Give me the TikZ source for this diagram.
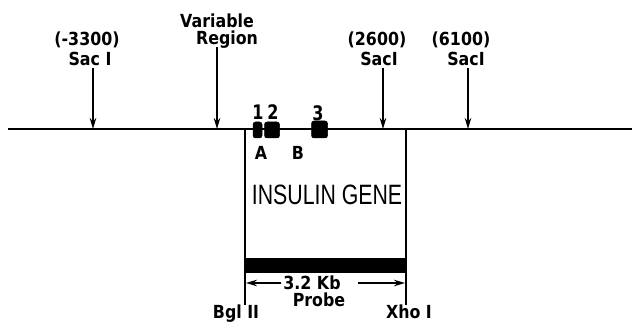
\documentclass[tikz,border=0pt]{standalone}
\usepackage{fontspec}
\setmainfont{DejaVu Sans}
\newfontfamily\genefont{Liberation Sans}
\usetikzlibrary{arrows.meta}
\newcommand\condtxt[1]{\scalebox{0.88}[1]{#1}}
\newcommand\numtxt[1]{\scalebox{0.8}[1]{#1}}
\begin{document}
\begin{tikzpicture}[x=1pt,y=-1pt,
  lbl/.style={font=\fontsize{18}{20}\selectfont\bfseries, inner sep=0pt, anchor=base},
  numlbl/.style={font=\fontsize{20}{22}\selectfont\bfseries, inner sep=0pt, anchor=base},
  ln/.style={line width=2.6pt},
  sitearrow/.style={line width=2.4pt, -{Stealth[length=11pt,width=6.5pt]}},
  dimarrow/.style={line width=2.2pt, -{Stealth[length=11pt,width=6.5pt]}},
  exon/.style={fill=black, draw=black, rounded corners=2.5pt, line width=0.5pt}
]
\useasboundingbox (0,0) rectangle (632,323);
\clip (0,0) rectangle (632,323);

% main line
\coordinate (L) at (8,129);
\coordinate (R) at (640,129);
\draw[ln] (L) -- (R);

% site coordinates on the line
\coordinate (p1) at (93,129);
\coordinate (p2) at (217,129);
\coordinate (p3) at (383,129);
\coordinate (p4) at (468,129);
\coordinate (p2top) at (217,47);

% top labels
\node[lbl] (s1a) at (87,46) {\condtxt{(-3300)}};
\node[lbl] (s1b) at (90,66) {\condtxt{Sac I}};
\node[lbl] (v1a) at (217,28) {\condtxt{Variable}};
\node[lbl] (v1b) at (227,45) {\condtxt{Region}};
\node[lbl] (s3a) at (377,46) {\condtxt{(2600)}};
\node[lbl] (s3b) at (379,66) {\condtxt{SacI}};
\node[lbl] (s4a) at (461,46) {\condtxt{(6100)}};
\node[lbl] (s4b) at (466,66) {\condtxt{SacI}};

\draw[sitearrow] (s1b.south -| p1) ++(0,2) -- (p1);
\draw[sitearrow] (p2top) -- (p2);
\draw[sitearrow] (s3b.south -| p3) ++(0,2) -- (p3);
\draw[sitearrow] (s4b.south -| p4) ++(0,2) -- (p4);

% exons
\node[exon, minimum width=9pt, minimum height=16pt, inner sep=0pt] (e1) at (257.5,130) {};
\node[exon, minimum width=15pt, minimum height=16pt, inner sep=0pt] (e2) at (272,130) {};
\node[exon, minimum width=16pt, minimum height=17pt, inner sep=0pt] (e3) at (319.5,129.5) {};
\node[numlbl] (n1) at (258,120) {\numtxt{1}};
\node[numlbl] (n2) at (273,120) {\numtxt{2}};
\node[numlbl] (n3) at (318,121) {\numtxt{3}};
\node[lbl] (la) at (261,160) {\condtxt{A}};
\node[lbl] (lb) at (298,160) {\condtxt{B}};

% gene box
\coordinate (bl) at (245,129);
\coordinate (br) at (406,129);
\coordinate (bl2) at (245,305);
\coordinate (br2) at (406,305);
\draw[ln] (bl) -- (bl2);
\draw[ln] (br) -- (br2);
\node[font=\genefont\fontsize{28}{30}\selectfont, inner sep=0pt, anchor=base] (gene) at (327,205) {\scalebox{0.76}[1]{INSULIN GENE}};

% probe bar
\node[fill=black, inner sep=0pt, minimum width=161pt, minimum height=15pt] (bar) at (325.5,265.5) {};

% dimension arrows
\coordinate (dl) at (246,283);
\coordinate (dr) at (405,283);
\node[lbl] (kb) at (312,289) {\condtxt{3.2 Kb}};
\node[lbl] (probe) at (319,306) {\condtxt{Probe}};
\coordinate (dls) at (281,283);
\coordinate (drs) at (358,283);
\draw[dimarrow] (dls) -- (dl);
\draw[dimarrow] (drs) -- (dr);

% bottom labels
\node[lbl] (bgl) at (236,318.5) {\condtxt{Bgl II}};
\node[lbl] (xho) at (409,318.5) {\condtxt{Xho I}};
\end{tikzpicture}
\end{document}
